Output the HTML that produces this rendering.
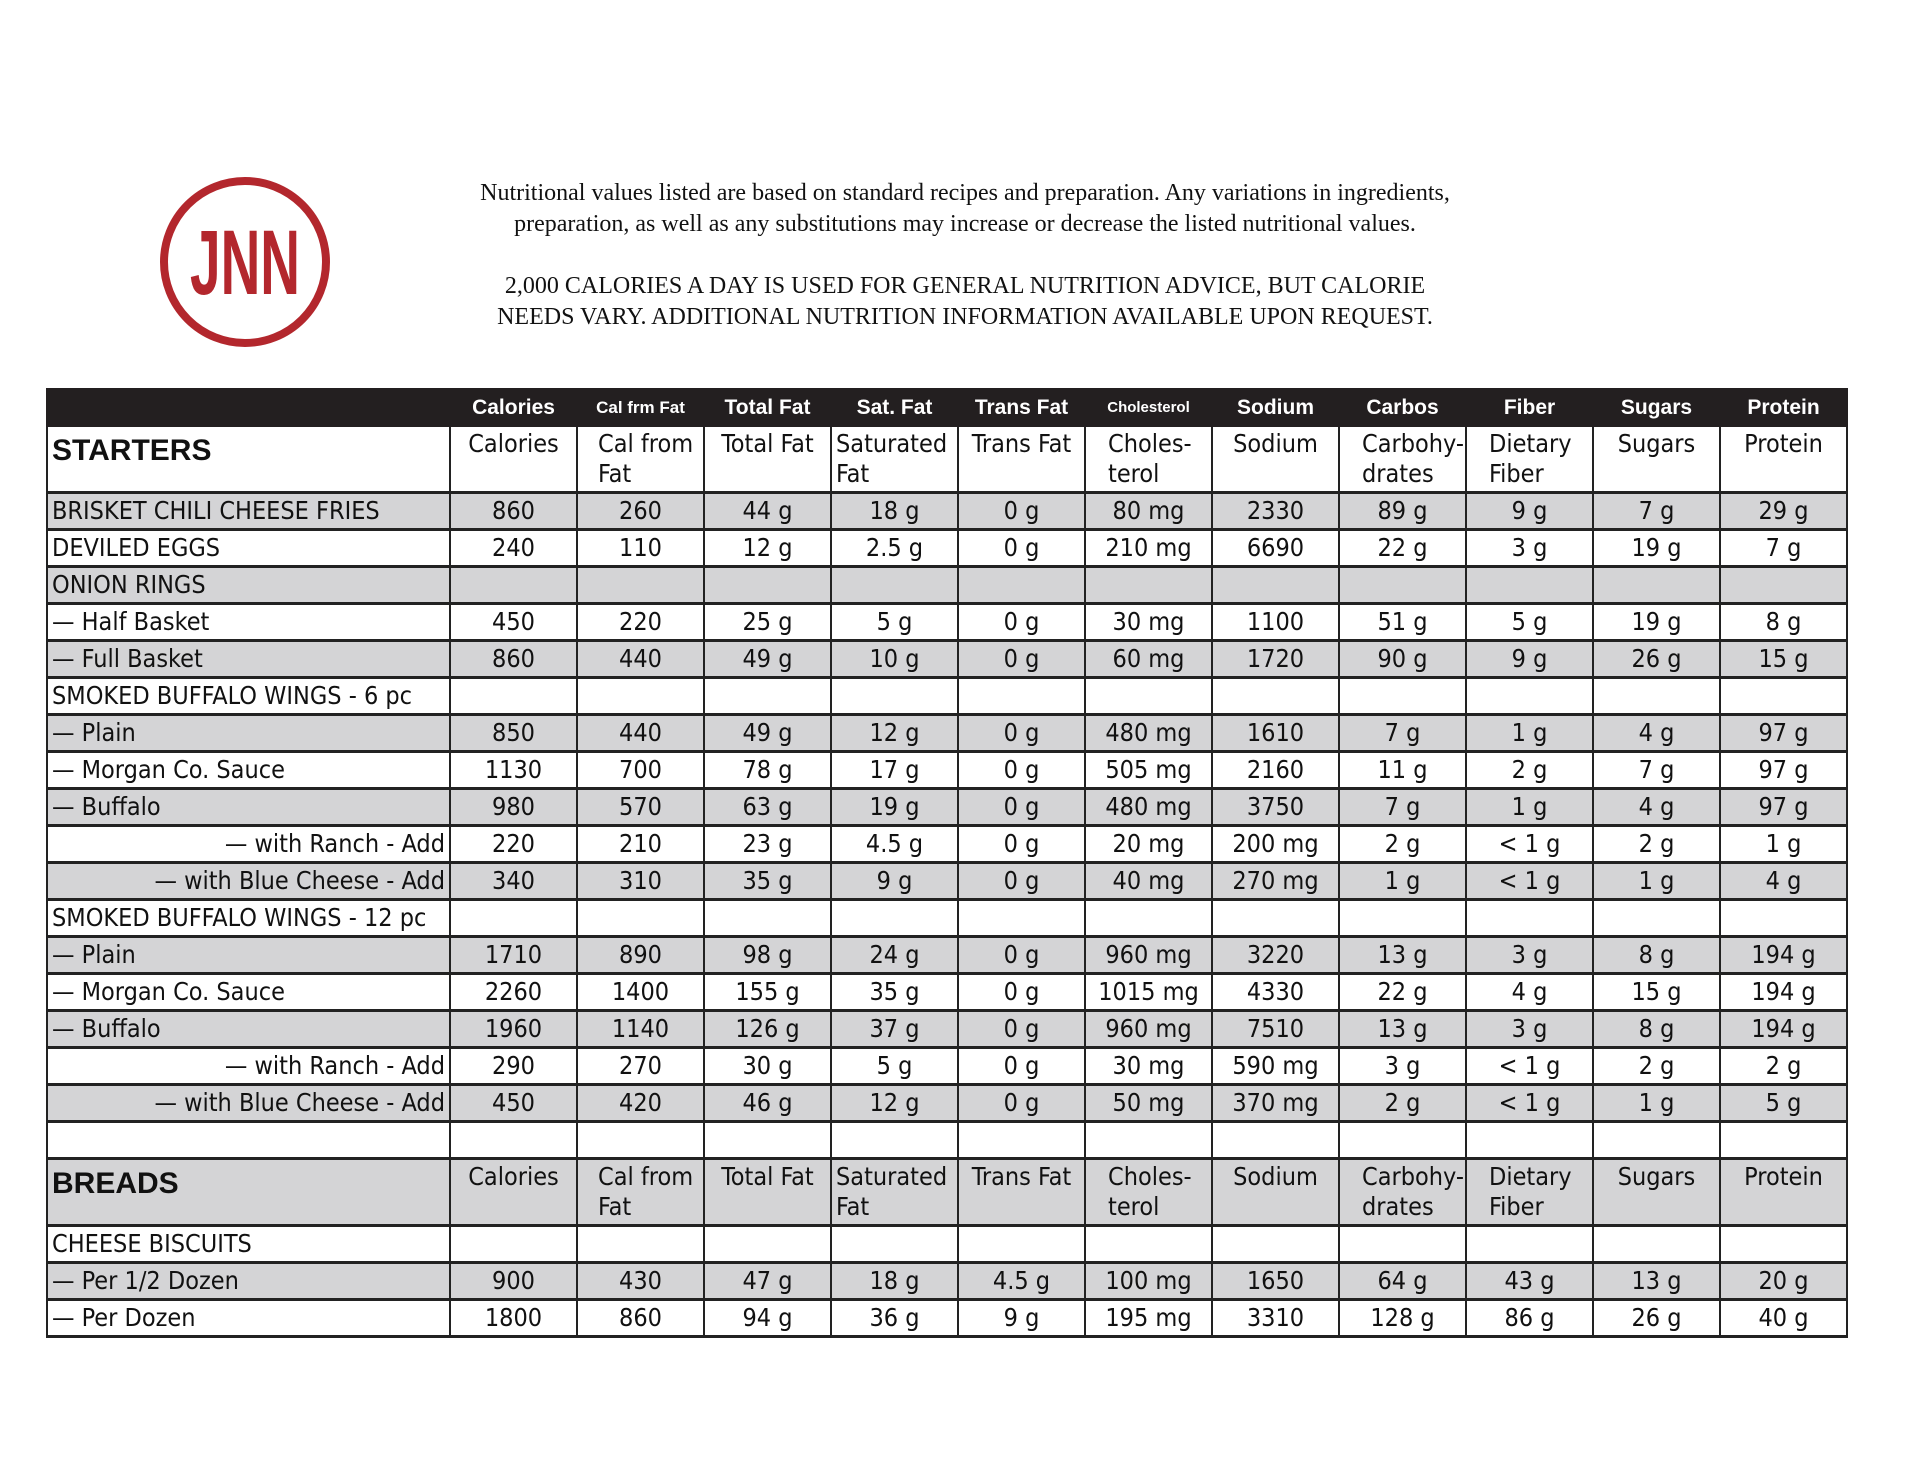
<!DOCTYPE html>
<html><head><meta charset="utf-8"><style>
body{margin:0;width:1920px;height:1484px;background:#fff;position:relative;overflow:hidden}
.intro{position:absolute;left:392px;width:1146px;top:178px;text-align:center;font-family:"Liberation Serif",serif;font-size:24px;line-height:31px;color:#111}
table{position:absolute;left:46px;top:388px;width:1800px;border-collapse:collapse;table-layout:fixed;font-family:"Liberation Sans Narrow","DejaVu Sans Condensed","Liberation Sans",sans-serif;font-size:25px;color:#111}
td{border-left:2px solid #222;border-right:2px solid #222;border-top:3px solid #222;border-bottom:3px solid #222;padding:0 4px;height:34px;line-height:34px;text-align:center;white-space:nowrap;overflow:hidden}
tr.h td{background:#231f20;color:#fff;font-weight:bold;font-family:"Liberation Sans Narrow","Liberation Sans",sans-serif;font-size:21px;height:33px;line-height:33px;border-color:#231f20}
tr.sec td{height:62px;vertical-align:top;line-height:30px;padding-top:2px}
tr.sec td.n{font-weight:bold;font-size:30px;text-align:left;line-height:44px;font-family:"Liberation Sans","DejaVu Sans",sans-serif}
tr.g td{background:#d4d4d6}
td.n{text-align:left}
td.r{text-align:right}
td.l{text-align:left}
</style></head><body>
<svg style="position:absolute;left:156px;top:174px" width="180" height="180">
<circle cx="89" cy="88" r="81" fill="none" stroke="#b3272d" stroke-width="8"/>
<text x="89" y="120" text-anchor="middle" font-family="Liberation Sans Narrow,Liberation Sans,sans-serif" font-weight="bold" font-size="92" fill="#b3272d" textLength="110" lengthAdjust="spacingAndGlyphs">JNN</text>
</svg>
<div class="intro">Nutritional values listed are based on standard recipes and preparation. Any variations in ingredients,<br>preparation, as well as any substitutions may increase or decrease the listed nutritional values.<br><br style="line-height:30px">2,000 CALORIES A DAY IS USED FOR GENERAL NUTRITION ADVICE, BUT CALORIE<br>NEEDS VARY. ADDITIONAL NUTRITION INFORMATION AVAILABLE UPON REQUEST.</div>
<table>
<colgroup><col style="width:403px"><col span="11" style="width:127px"></colgroup>
<tr class="h"><td></td><td>Calories</td><td style="font-size:17px">Cal frm Fat</td><td>Total Fat</td><td>Sat. Fat</td><td>Trans Fat</td><td style="font-size:15px">Cholesterol</td><td>Sodium</td><td>Carbos</td><td>Fiber</td><td>Sugars</td><td>Protein</td></tr>
<tr class="sec"><td class="n">STARTERS</td><td>Calories</td><td class="l" style="padding-left:20px">Cal from<br>Fat</td><td>Total Fat</td><td class="l">Saturated<br>Fat</td><td>Trans Fat</td><td class="l" style="padding-left:22px">Choles-<br>terol</td><td>Sodium</td><td class="l" style="padding-left:22px">Carbohy-<br>drates</td><td class="l" style="padding-left:22px">Dietary<br>Fiber</td><td>Sugars</td><td>Protein</td></tr>
<tr class="g"><td class="n">BRISKET CHILI CHEESE FRIES</td><td>860</td><td>260</td><td>44 g</td><td>18 g</td><td>0 g</td><td>80 mg</td><td>2330</td><td>89 g</td><td>9 g</td><td>7 g</td><td>29 g</td></tr>
<tr><td class="n">DEVILED EGGS</td><td>240</td><td>110</td><td>12 g</td><td>2.5 g</td><td>0 g</td><td>210 mg</td><td>6690</td><td>22 g</td><td>3 g</td><td>19 g</td><td>7 g</td></tr>
<tr class="g"><td class="n">ONION RINGS</td><td></td><td></td><td></td><td></td><td></td><td></td><td></td><td></td><td></td><td></td><td></td></tr>
<tr><td class="n">— Half Basket</td><td>450</td><td>220</td><td>25 g</td><td>5 g</td><td>0 g</td><td>30 mg</td><td>1100</td><td>51 g</td><td>5 g</td><td>19 g</td><td>8 g</td></tr>
<tr class="g"><td class="n">— Full Basket</td><td>860</td><td>440</td><td>49 g</td><td>10 g</td><td>0 g</td><td>60 mg</td><td>1720</td><td>90 g</td><td>9 g</td><td>26 g</td><td>15 g</td></tr>
<tr><td class="n">SMOKED BUFFALO WINGS - 6 pc</td><td></td><td></td><td></td><td></td><td></td><td></td><td></td><td></td><td></td><td></td><td></td></tr>
<tr class="g"><td class="n">— Plain</td><td>850</td><td>440</td><td>49 g</td><td>12 g</td><td>0 g</td><td>480 mg</td><td>1610</td><td>7 g</td><td>1 g</td><td>4 g</td><td>97 g</td></tr>
<tr><td class="n">— Morgan Co. Sauce</td><td>1130</td><td>700</td><td>78 g</td><td>17 g</td><td>0 g</td><td>505 mg</td><td>2160</td><td>11 g</td><td>2 g</td><td>7 g</td><td>97 g</td></tr>
<tr class="g"><td class="n">— Buffalo</td><td>980</td><td>570</td><td>63 g</td><td>19 g</td><td>0 g</td><td>480 mg</td><td>3750</td><td>7 g</td><td>1 g</td><td>4 g</td><td>97 g</td></tr>
<tr><td class="r">— with Ranch - Add</td><td>220</td><td>210</td><td>23 g</td><td>4.5 g</td><td>0 g</td><td>20 mg</td><td>200 mg</td><td>2 g</td><td>&lt; 1 g</td><td>2 g</td><td>1 g</td></tr>
<tr class="g"><td class="r">— with Blue Cheese - Add</td><td>340</td><td>310</td><td>35 g</td><td>9 g</td><td>0 g</td><td>40 mg</td><td>270 mg</td><td>1 g</td><td>&lt; 1 g</td><td>1 g</td><td>4 g</td></tr>
<tr><td class="n">SMOKED BUFFALO WINGS - 12 pc</td><td></td><td></td><td></td><td></td><td></td><td></td><td></td><td></td><td></td><td></td><td></td></tr>
<tr class="g"><td class="n">— Plain</td><td>1710</td><td>890</td><td>98 g</td><td>24 g</td><td>0 g</td><td>960 mg</td><td>3220</td><td>13 g</td><td>3 g</td><td>8 g</td><td>194 g</td></tr>
<tr><td class="n">— Morgan Co. Sauce</td><td>2260</td><td>1400</td><td>155 g</td><td>35 g</td><td>0 g</td><td>1015 mg</td><td>4330</td><td>22 g</td><td>4 g</td><td>15 g</td><td>194 g</td></tr>
<tr class="g"><td class="n">— Buffalo</td><td>1960</td><td>1140</td><td>126 g</td><td>37 g</td><td>0 g</td><td>960 mg</td><td>7510</td><td>13 g</td><td>3 g</td><td>8 g</td><td>194 g</td></tr>
<tr><td class="r">— with Ranch - Add</td><td>290</td><td>270</td><td>30 g</td><td>5 g</td><td>0 g</td><td>30 mg</td><td>590 mg</td><td>3 g</td><td>&lt; 1 g</td><td>2 g</td><td>2 g</td></tr>
<tr class="g"><td class="r">— with Blue Cheese - Add</td><td>450</td><td>420</td><td>46 g</td><td>12 g</td><td>0 g</td><td>50 mg</td><td>370 mg</td><td>2 g</td><td>&lt; 1 g</td><td>1 g</td><td>5 g</td></tr>
<tr><td></td><td></td><td></td><td></td><td></td><td></td><td></td><td></td><td></td><td></td><td></td><td></td></tr>
<tr class="sec g"><td class="n">BREADS</td><td>Calories</td><td class="l" style="padding-left:20px">Cal from<br>Fat</td><td>Total Fat</td><td class="l">Saturated<br>Fat</td><td>Trans Fat</td><td class="l" style="padding-left:22px">Choles-<br>terol</td><td>Sodium</td><td class="l" style="padding-left:22px">Carbohy-<br>drates</td><td class="l" style="padding-left:22px">Dietary<br>Fiber</td><td>Sugars</td><td>Protein</td></tr>
<tr><td class="n">CHEESE BISCUITS</td><td></td><td></td><td></td><td></td><td></td><td></td><td></td><td></td><td></td><td></td><td></td></tr>
<tr class="g"><td class="n">— Per 1/2 Dozen</td><td>900</td><td>430</td><td>47 g</td><td>18 g</td><td>4.5 g</td><td>100 mg</td><td>1650</td><td>64 g</td><td>43 g</td><td>13 g</td><td>20 g</td></tr>
<tr><td class="n">— Per Dozen</td><td>1800</td><td>860</td><td>94 g</td><td>36 g</td><td>9 g</td><td>195 mg</td><td>3310</td><td>128 g</td><td>86 g</td><td>26 g</td><td>40 g</td></tr>
</table>
</body></html>
